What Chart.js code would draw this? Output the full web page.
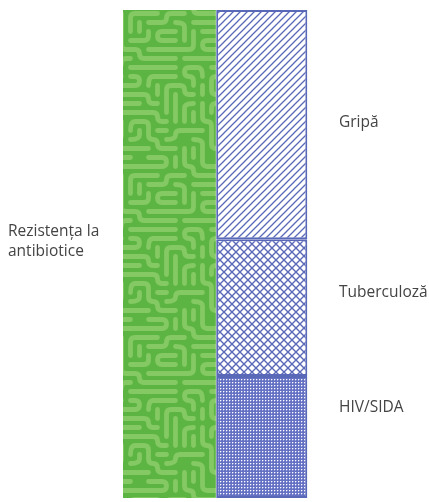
<!DOCTYPE html>
<html lang="ro">
<head>
<meta charset="UTF-8">
<title>Rezistența la antibiotice</title>
<script src="https://cdn.jsdelivr.net/npm/chart.js"></script>
<style>
  html, body { margin: 0; padding: 0; background: #ffffff; }
  #wrap { width: 429px; height: 502px; position: relative; }
</style>
</head>
<body>
<div id="wrap"><canvas id="chart"></canvas></div>
<script>
// data
const bars = ['antibiotice', 'boli'];
const resistance = [100, null];
const causes = ['HIV/SIDA', 'Tuberculoză', 'Gripă'];
const causeValues = [25, 28, 47];
const leftLabel = ['Rezistența la', 'antibiotice'];
// where each label sits, in value units
const leftLabelAt = 52.5;
const causeLabelAt = [18.6, 42, 77];

const BLUE = '#5a68b8';

// green "labyrinth" texture: short worms walked on a grid, drawn as smooth curves
function mazePattern() {
  const cell = 9, cols = 12, rows = 18;
  const c = document.createElement('canvas');
  c.width = cols * cell; c.height = rows * cell;
  const g = c.getContext('2d');
  g.fillStyle = '#5cb443';
  g.fillRect(0, 0, c.width, c.height);
  g.strokeStyle = '#84c963';
  g.lineWidth = 4.8;
  g.lineCap = 'round';
  g.lineJoin = 'round';
  let s = 12345;
  const rnd = () => { s = (s * 16807) % 2147483647; return s / 2147483647; };
  const used = [];
  for (let i = 0; i < cols * rows; i++) used.push(false);
  const idx = (x, y) => ((y + rows) % rows) * cols + ((x + cols) % cols);
  const dirs = [[1,0],[-1,0],[0,1],[0,-1]];
  const order = [];
  for (let i = 0; i < cols * rows; i++) order.push(i);
  for (let i = order.length - 1; i > 0; i--) {
    const j = Math.floor(rnd() * (i + 1)); const t = order[i]; order[i] = order[j]; order[j] = t;
  }
  order.forEach(function (start) {
    if (used[start]) return;
    let x = start % cols, y = Math.floor(start / cols);
    const pts = [[x, y]];
    used[start] = true;
    let dir = Math.floor(rnd() * 4);
    const len = 3 + Math.floor(rnd() * 9);
    for (let k = 0; k < len; k++) {
      const tries = rnd() < 0.55 ? [dir, 0, 1, 2, 3] : [Math.floor(rnd() * 4), 0, 1, 2, 3];
      let moved = false;
      for (const d of tries) {
        const nx = x + dirs[d][0], ny = y + dirs[d][1];
        if (!used[idx(nx, ny)]) {
          x = nx; y = ny; dir = d; used[idx(x, y)] = true; pts.push([x, y]); moved = true; break;
        }
      }
      if (!moved) break;
    }
    if (pts.length < 2) return;
    [[0,0],[-cols,0],[cols,0],[0,-rows],[0,rows]].forEach(function (o) {
      g.beginPath();
      const P = pts.map(p => [(p[0] + o[0]) * cell + cell / 2, (p[1] + o[1]) * cell + cell / 2]);
      g.moveTo(P[0][0], P[0][1]);
      for (let i = 1; i < P.length - 1; i++) {
        const mx = (P[i][0] + P[i + 1][0]) / 2, my = (P[i][1] + P[i + 1][1]) / 2;
        g.quadraticCurveTo(P[i][0], P[i][1], mx, my);
      }
      g.lineTo(P[P.length - 1][0], P[P.length - 1][1]);
      g.stroke();
    });
  });
  return g.createPattern(c, 'repeat');
}

function hatchPattern() {
  const c = document.createElement('canvas');
  c.width = 7; c.height = 7;
  const g = c.getContext('2d');
  g.fillStyle = '#fff'; g.fillRect(0, 0, 7, 7);
  g.strokeStyle = BLUE; g.lineWidth = 1.3;
  g.beginPath();
  g.moveTo(-1, 8); g.lineTo(8, -1);
  g.moveTo(-1, 1); g.lineTo(1, -1);
  g.moveTo(6, 8); g.lineTo(8, 6);
  g.stroke();
  return g.createPattern(c, 'repeat');
}

function crossPattern() {
  const c = document.createElement('canvas');
  c.width = 8; c.height = 8;
  const g = c.getContext('2d');
  g.fillStyle = '#fff'; g.fillRect(0, 0, 8, 8);
  g.strokeStyle = BLUE; g.lineWidth = 1.4;
  g.beginPath();
  g.moveTo(-1, 9); g.lineTo(9, -1);
  g.moveTo(-1, -1); g.lineTo(9, 9);
  g.stroke();
  return g.createPattern(c, 'repeat');
}

function finePattern() {
  const c = document.createElement('canvas');
  c.width = 3; c.height = 3;
  const g = c.getContext('2d');
  g.fillStyle = '#6572c3'; g.fillRect(0, 0, 3, 3);
  g.fillStyle = '#ffffff'; g.fillRect(1, 1, 1, 1);
  g.fillStyle = '#97a0da'; g.fillRect(2, 1, 1, 1); g.fillRect(1, 2, 1, 1);
  return g.createPattern(c, 'repeat');
}

const causeFills = [finePattern(), crossPattern(), hatchPattern()];

const datasets = [{
  label: leftLabel.join(' '),
  data: resistance,
  backgroundColor: mazePattern(),
  borderWidth: 0,
  barPercentage: 1,
  categoryPercentage: 1
}];
causes.forEach(function (name, i) {
  datasets.push({
    label: name,
    data: [null, causeValues[i]],
    backgroundColor: causeFills[i],
    borderColor: BLUE,
    borderWidth: 2,
    borderSkipped: false,
    barPercentage: 0.985,
    categoryPercentage: 1
  });
});

const labelPlugin = {
  id: 'sideLabels',
  afterDatasetsDraw(chart) {
    const ctx = chart.ctx;
    const y = chart.scales.y;
    const area = chart.chartArea;
    ctx.save();
    ctx.font = '15.5px "Open Sans", sans-serif';
    ctx.fillStyle = '#444444';
    ctx.textBaseline = 'middle';
    ctx.textAlign = 'left';
    const ly = y.getPixelForValue(leftLabelAt);
    ctx.fillText(leftLabel[0], 8, ly - 10);
    ctx.fillText(leftLabel[1], 8, ly + 10);
    causes.forEach(function (name, i) {
      ctx.fillText(name, area.right + 31, y.getPixelForValue(causeLabelAt[i]));
    });
    ctx.restore();
  }
};

new Chart(document.getElementById('chart'), {
  type: 'bar',
  data: { labels: bars, datasets: datasets },
  options: {
    responsive: true,
    maintainAspectRatio: false,
    animation: false,
    layout: { padding: { left: 123, right: 121, top: 10, bottom: 4 } },
    plugins: { legend: { display: false }, tooltip: { enabled: false } },
    scales: {
      x: { stacked: true, display: false },
      y: { stacked: true, display: false, min: 0, max: 100 }
    }
  },
  plugins: [labelPlugin]
});
</script>
</body>
</html>
